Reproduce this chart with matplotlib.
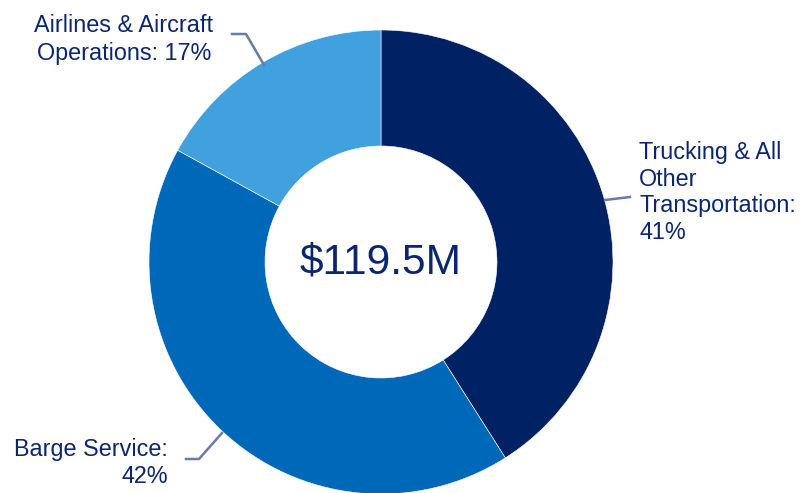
import matplotlib
matplotlib.use("Agg")
import matplotlib.pyplot as plt

categories = ["Trucking & All\nOther\nTransportation:\n41%",
              "Barge Service:\n42%",
              "Airlines & Aircraft\nOperations: 17%"]
values = [41, 42, 17]
colors = ["#002163", "#0068b9", "#41a0de"]
center_text = "$119.5M"

plt.rcParams['font.family'] = ['Liberation Sans', 'DejaVu Sans']
W, H = 802, 493
fig = plt.figure(figsize=(W / 100, H / 100), dpi=100)
ax = fig.add_axes([0, 0, 1, 1])
ax.set_xlim(0, W)
ax.set_ylim(0, H)
ax.set_aspect('equal')
ax.axis('off')

def Y(y):
    return H - y

cx, cy, R = 381, Y(262), 232
ax.pie(values, colors=colors, startangle=90, counterclock=False,
       radius=R, center=(cx, cy), frame=True,
       wedgeprops=dict(width=R * 0.5, edgecolor='white', linewidth=0.4))
ax.set_xlim(0, W)
ax.set_ylim(0, H)
ax.axis('off')

txt_color = "#0b2570"
line_color = "#6b7ba8"

ax.text(cx, cy, center_text, ha='center', va='center', fontsize=30.5,
        color=txt_color)

# Trucking label
ax.text(639, Y(141), categories[0], ha='left', va='top', fontsize=16.8,
        color=txt_color, linespacing=1.2)
ax.plot([605, 630], [Y(200), Y(197)], color=line_color, lw=1.8)

# Barge label
ax.text(168, Y(483), categories[1], ha='right', va='baseline', fontsize=16.8,
        color=txt_color, linespacing=1.2, multialignment='right')
ax.plot([186, 199, 222], [Y(459), Y(459), Y(433)], color=line_color, lw=1.8)

# Airlines label
ax.text(124, Y(60), categories[2], ha='center', va='baseline', fontsize=16.8,
        color=txt_color, linespacing=1.25, multialignment='center')
ax.plot([232, 246, 264], [Y(34), Y(34), Y(65)], color=line_color, lw=1.8)

fig.savefig("out.png", dpi=100)
